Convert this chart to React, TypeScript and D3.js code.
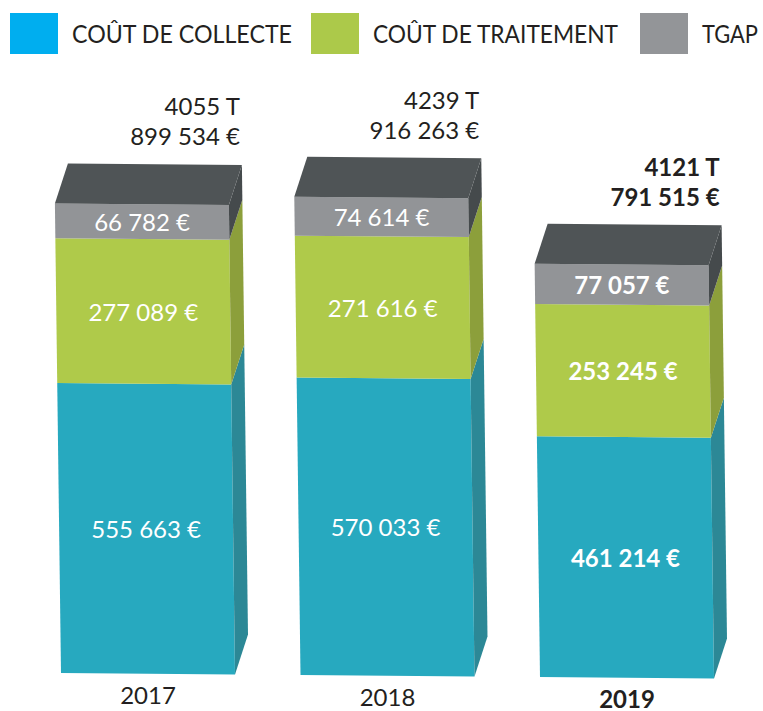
import React from "react";
import * as d3 from "d3";

const years = ["2017", "2018", "2019"];
const collecte = [555663, 570033, 461214];
const traitement = [277089, 271616, 253245];
const tgap = [66782, 74614, 77057];
const totals = [899534, 916263, 791515];
const tonnages = ["4055 T", "4239 T", "4121 T"];
const boldYear = "2019";

const legendLabels = ["COÛT DE COLLECTE", "COÛT DE TRAITEMENT", "TGAP"];
const legendColors = ["#00aeef", "#acc94a", "#939598"];
const legendX = [10, 311, 640];
const legendTextLen = [220, 245, 56];

const frontColors = ["#27a9bf", "#afca4a", "#929497"];
const sideColors = ["#2c8896", "#8c9f3b", "#454a4c"];
const topColor = "#4f5456";
const textDark = "#231f20";

const fmt = (v: number) => d3.format(",")(v).replace(/,/g, " ") + " €";

export default function App() {
  const W = 763, H = 711;
  const keys = ["collecte", "traitement", "tgap"];
  const rows = years.map((y, i) => ({ year: y, collecte: collecte[i], traitement: traitement[i], tgap: tgap[i] }));
  const stack = d3.stack<any>().keys(keys)(rows);

  const x = d3.scaleBand<string>().domain(years).range([61, 714]).paddingInner(0.2735).paddingOuter(0);
  const bw = x.bandwidth();
  const h = d3.scaleLinear().domain([0, 1000000]).range([0, 522]);
  const base = d3.scaleLinear().domain([61, 540]).range([673, 677]);
  const shear = 0.013;
  const dx = 13, dy = -40;

  const P = (xb: number, u: number, v: number): [number, number] => {
    const hv = h(v);
    return [xb + u - shear * hv, base(xb + u) - hv];
  };
  const poly = (pts: [number, number][]) => pts.map((p) => p.join(",")).join(" ");
  const off = (p: [number, number]): [number, number] => [p[0] + dx, p[1] + dy];

  const font = "Lato, 'Open Sans', sans-serif";

  return (
    <svg width={W} height={H} style={{ display: "block", position: "absolute", left: 0, top: 0 }}>
      <rect width={W} height={H} fill="#fff" />
      {legendLabels.map((l, i) => (
        <g key={l}>
          <rect x={legendX[i]} y={13} width={48} height={41} fill={legendColors[i]} />
          <text x={legendX[i] + 62} y={43} fontFamily={font} fontSize={25} fill={textDark}
            textLength={legendTextLen[i]} lengthAdjust="spacingAndGlyphs">{l}</text>
        </g>
      ))}
      {years.map((yr, i) => {
        const xb = x(yr)!;
        const bold = yr === boldYear;
        const segs = stack.map((s, k) => ({ v0: s[i][0], v1: s[i][1], k }));
        const vt = segs[segs.length - 1].v1;
        const topBR = off(P(xb, bw, vt));
        return (
          <g key={yr}>
            {segs.map((s) => (
              <g key={s.k}>
                <polygon points={poly([P(xb, 0, s.v0), P(xb, bw, s.v0), P(xb, bw, s.v1), P(xb, 0, s.v1)])} fill={frontColors[s.k]} />
                <polygon points={poly([P(xb, bw, s.v0), P(xb, bw, s.v1), off(P(xb, bw, s.v1)), off(P(xb, bw, s.v0))])} fill={sideColors[s.k]} />
              </g>
            ))}
            <polygon points={poly([P(xb, 0, vt), P(xb, bw, vt), off(P(xb, bw, vt)), off(P(xb, 0, vt))])} fill={topColor} />
            {segs.map((s) => {
              const c = P(xb, bw / 2, (s.v0 + s.v1) / 2);
              const val = [collecte, traitement, tgap][s.k][i];
              return (
                <text key={"l" + s.k} x={c[0]} y={c[1]} textAnchor="middle" dominantBaseline="central"
                  fontFamily={font} fontSize={24} fontWeight={bold ? 700 : 400} fill="#fff">{fmt(val)}</text>
              );
            })}
            <text x={topBR[0] - 2} y={topBR[1] - 59} textAnchor="end" dominantBaseline="central"
              fontFamily={font} fontSize={24} fontWeight={bold ? 700 : 400} fill={textDark}>{tonnages[i]}</text>
            <text x={topBR[0] - 2} y={topBR[1] - 29} textAnchor="end" dominantBaseline="central"
              fontFamily={font} fontSize={24} fontWeight={bold ? 700 : 400} fill={textDark}>{fmt(totals[i])}</text>
            <text x={P(xb, bw / 2, 0)[0]} y={base(xb + bw / 2) + 21} textAnchor="middle" dominantBaseline="central"
              fontFamily={font} fontSize={24} fontWeight={bold ? 700 : 400} fill={textDark}>{yr}</text>
          </g>
        );
      })}
    </svg>
  );
}
